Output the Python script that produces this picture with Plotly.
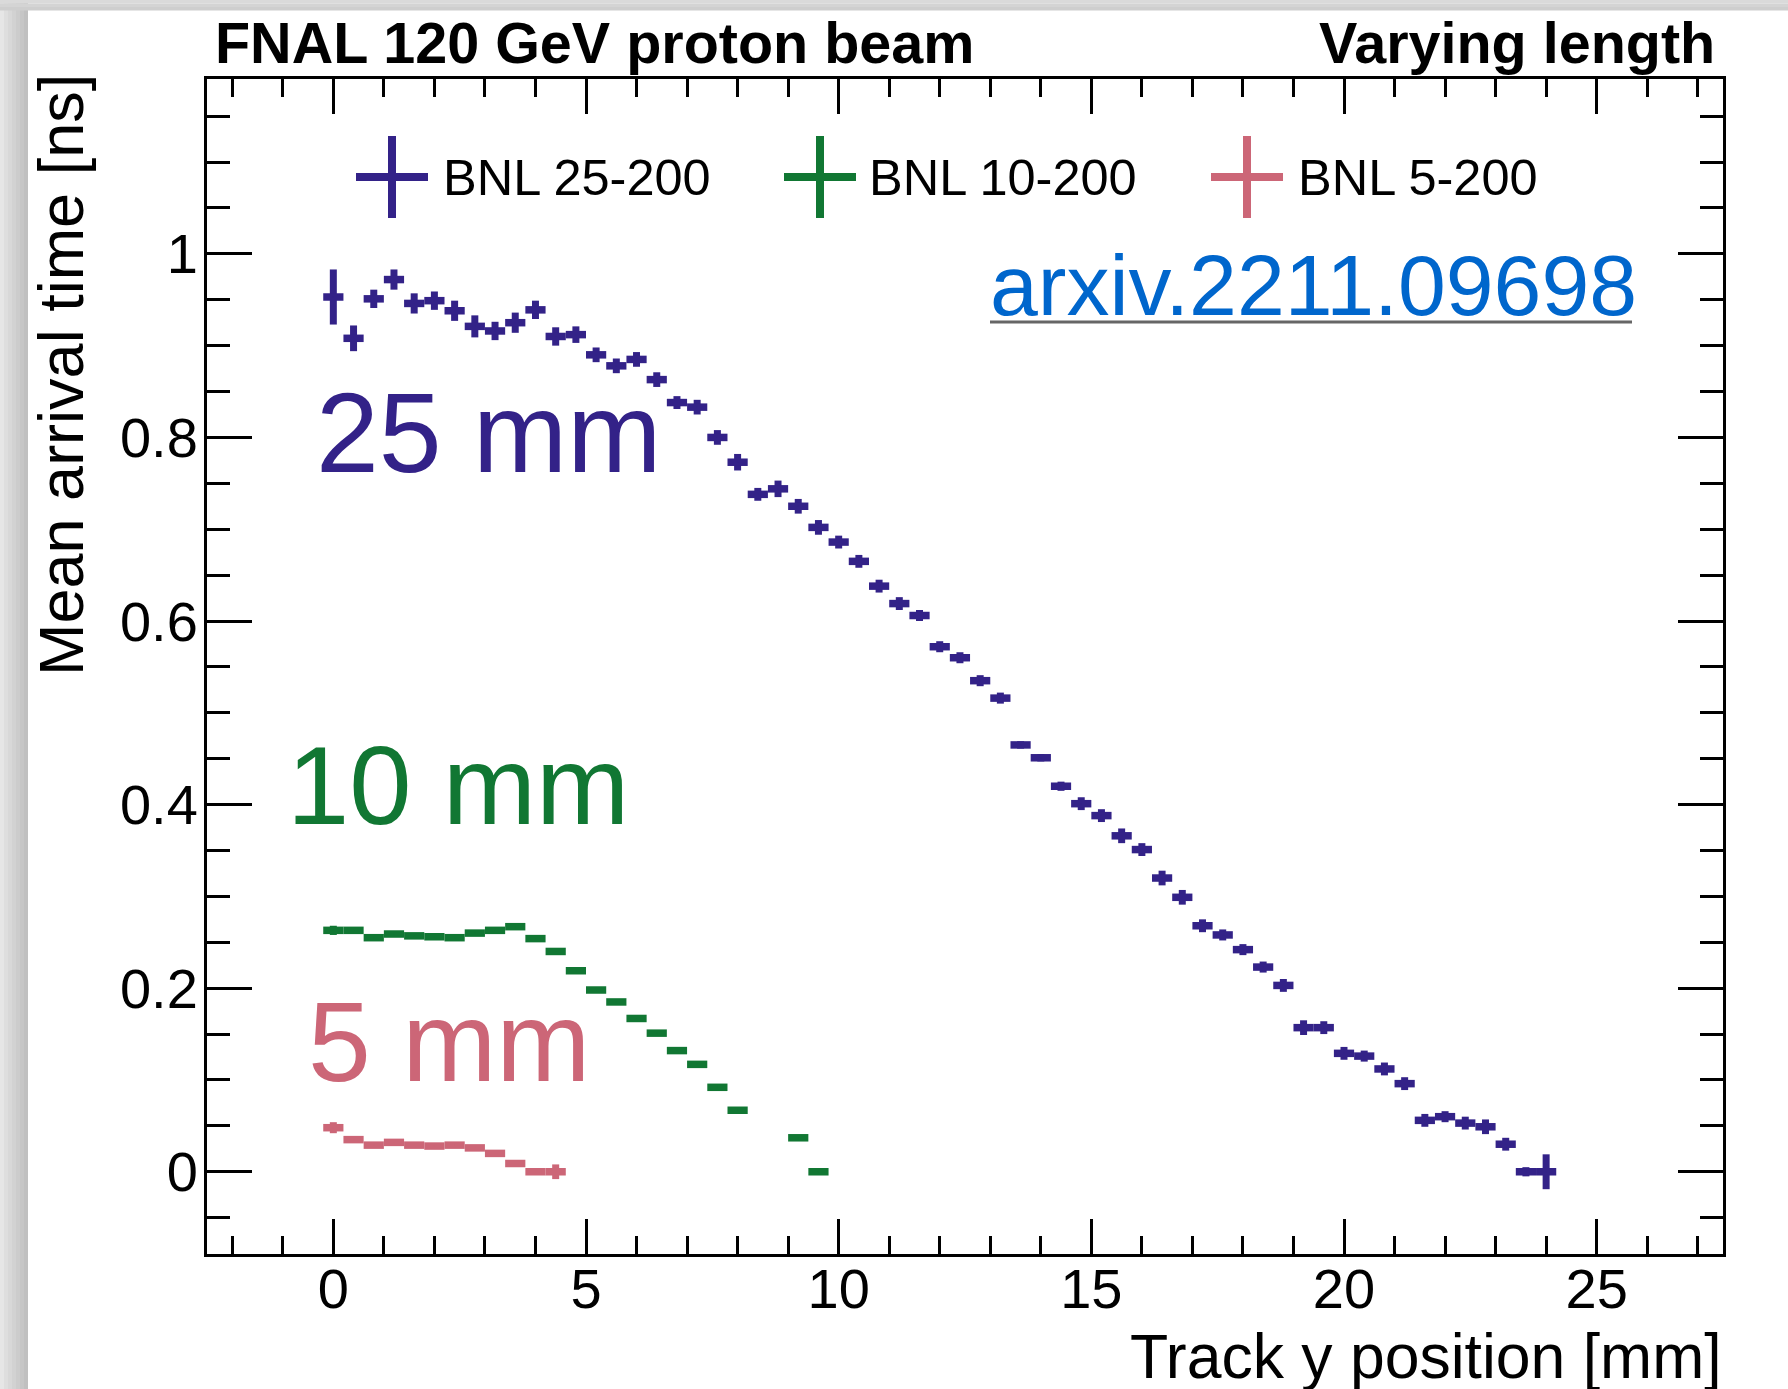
import plotly.graph_objects as go

# ---------------- data ----------------
x_25 = [0.0, 0.4, 0.8, 1.2, 1.6, 2.0, 2.4, 2.8, 3.2, 3.6, 4.0, 4.4, 4.8, 5.2, 5.6, 6.0,
        6.4, 6.8, 7.2, 7.6, 8.0, 8.4, 8.8, 9.2, 9.6, 10.0, 10.4, 10.8, 11.2, 11.6, 12.0,
        12.4, 12.8, 13.2, 13.6, 14.0, 14.4, 14.8, 15.2, 15.6, 16.0, 16.4, 16.8, 17.2,
        17.6, 18.0, 18.4, 18.8, 19.2, 19.6, 20.0, 20.4, 20.8, 21.2, 21.6, 22.0, 22.4,
        22.8, 23.2, 23.6, 24.0]
y_25 = [0.953, 0.908, 0.951, 0.972, 0.946, 0.949, 0.938, 0.921, 0.916, 0.925,
        0.939, 0.910, 0.912, 0.890, 0.878, 0.885, 0.863, 0.838, 0.833, 0.800,
        0.773, 0.738, 0.744, 0.725, 0.702, 0.686, 0.665, 0.638, 0.619, 0.606,
        0.572, 0.560, 0.535, 0.516, 0.465, 0.451, 0.420, 0.401, 0.388, 0.366,
        0.351, 0.320, 0.299, 0.268, 0.258, 0.242, 0.223, 0.203, 0.157, 0.157,
        0.129, 0.126, 0.112, 0.096, 0.056, 0.060, 0.053, 0.049, 0.030, 0.000, 0.000]
e_25 = [0.030, 0.014, 0.010, 0.011, 0.011, 0.010, 0.011, 0.012, 0.010, 0.011,
        0.010, 0.010, 0.009, 0.008, 0.008, 0.008, 0.008, 0.007, 0.008, 0.008,
        0.009, 0.007, 0.009, 0.008, 0.008, 0.007, 0.007, 0.007, 0.007, 0.006,
        0.006, 0.006, 0.006, 0.006, 0.004, 0.004, 0.005, 0.007, 0.007, 0.008,
        0.007, 0.008, 0.008, 0.007, 0.006, 0.006, 0.006, 0.007, 0.008, 0.007,
        0.007, 0.006, 0.007, 0.007, 0.007, 0.006, 0.007, 0.008, 0.007, 0.005, 0.019]

x_10 = [0.0, 0.4, 0.8, 1.2, 1.6, 2.0, 2.4, 2.8, 3.2, 3.6, 4.0, 4.4, 4.8, 5.2, 5.6, 6.0,
        6.4, 6.8, 7.2, 7.6, 8.0, 9.2, 9.6]
y_10 = [0.263, 0.263, 0.255, 0.259, 0.257, 0.256, 0.255, 0.260, 0.263, 0.267,
        0.254, 0.240, 0.219, 0.198, 0.185, 0.167, 0.151, 0.132, 0.117, 0.092,
        0.067, 0.037, 0.000]
e_10 = [0.005, 0.003, 0.003, 0.003, 0.003, 0.003, 0.003, 0.003, 0.003, 0.003,
        0.003, 0.003, 0.003, 0.003, 0.003, 0.003, 0.003, 0.003, 0.003, 0.003,
        0.003, 0.003, 0.003]

x_5 = [0.0, 0.4, 0.8, 1.2, 1.6, 2.0, 2.4, 2.8, 3.2, 3.6, 4.0, 4.4]
y_5 = [0.048, 0.035, 0.029, 0.032, 0.029, 0.028, 0.029, 0.026, 0.020, 0.009, 0.000, 0.000]
e_5 = [0.006, 0.003, 0.003, 0.003, 0.003, 0.003, 0.003, 0.003, 0.003, 0.003, 0.003, 0.008]

bin_half_width = 0.2  # mm, horizontal error bar

names = ["BNL 25-200", "BNL 10-200", "BNL 5-200"]
labels = ["25 mm", "10 mm", "5 mm"]
colors = ["#332288", "#117733", "#CC6677"]

x_ticks = [0, 5, 10, 15, 20, 25]
y_ticks = [0, 0.2, 0.4, 0.6, 0.8, 1]

FONT = "Liberation Sans, Arial, Helvetica, sans-serif"

# ---------------- layout helpers (pixels -> paper) ----------------
W, H = 1788, 1389
L, R, T, B = 207, 1723, 79, 1254


def px(x):
    return (x - L) / (R - L)


def py(y):
    return (B - y) / (B - T)


fig = go.Figure()

for xs, ys, es, c, n in zip([x_25, x_10, x_5], [y_25, y_10, y_5], [e_25, e_10, e_5], colors, names):
    fig.add_trace(go.Scatter(
        x=xs, y=ys, mode="markers", name=n, showlegend=False,
        marker=dict(size=1, color=c),
        error_x=dict(type="constant", value=bin_half_width, thickness=7.5, width=0, color=c),
        error_y=dict(type="data", array=es, thickness=7, width=0, color=c),
    ))

axis_common = dict(
    ticks="inside", tickwidth=3, tickcolor="black",
    showline=True, linecolor="black", linewidth=3, mirror="allticks",
    showgrid=False, zeroline=False,
    tickfont=dict(family=FONT, size=56, color="black"),
)

fig.update_xaxes(range=[-2.5, 27.5], tickmode="array", tickvals=x_ticks,
                 ticktext=[str(v) for v in x_ticks], ticklen=35, ticklabelstandoff=-16,
                 minor=dict(dtick=1, tick0=0, ticks="inside", ticklen=18, tickwidth=3,
                            tickcolor="black", showgrid=False),
                 **axis_common)
fig.update_yaxes(range=[-0.0896, 1.1905], tickmode="array", tickvals=y_ticks,
                 ticktext=[("%g" % v) for v in y_ticks], ticklen=45, ticklabelstandoff=-5,
                 minor=dict(dtick=0.05, tick0=0, ticks="inside", ticklen=23, tickwidth=3,
                            tickcolor="black", showgrid=False),
                 **axis_common)

shapes = []
# grey shadow border (left and top)
left_greys = ["#e6e6e6", "#dedede", "#d8d8d8", "#d2d2d2", "#cccccc", "#c6c6c6", "#c0c0c0"]
for i, g in enumerate(left_greys):
    shapes.append(dict(type="rect", xref="paper", yref="paper",
                       x0=px(i * 4), x1=px(i * 4 + 4), y0=py(H), y1=py(0),
                       fillcolor=g, line=dict(width=0), layer="below"))
top_greys = ["#dadada", "#d4d4d4", "#cecece"]
for i, g in enumerate(top_greys):
    shapes.append(dict(type="rect", xref="paper", yref="paper",
                       x0=px(0), x1=px(W), y0=py(i * 3.5 + 3.5), y1=py(i * 3.5),
                       fillcolor=g, line=dict(width=0), layer="below"))

# legend crosses
legend_cx = [392, 820, 1247]
legend_cy = 177
for cx, c in zip(legend_cx, colors):
    shapes.append(dict(type="line", xref="paper", yref="paper",
                       x0=px(cx - 36), x1=px(cx + 36), y0=py(legend_cy), y1=py(legend_cy),
                       line=dict(color=c, width=8)))
    shapes.append(dict(type="line", xref="paper", yref="paper",
                       x0=px(cx), x1=px(cx), y0=py(legend_cy - 41), y1=py(legend_cy + 41),
                       line=dict(color=c, width=8)))

# underline of the arxiv link
shapes.append(dict(type="line", xref="paper", yref="paper",
                   x0=px(990), x1=px(1632), y0=py(322), y1=py(322),
                   line=dict(color="#666666", width=3)))

annotations = []
legend_tx = [441, 867, 1296]
for tx, n in zip(legend_tx, names):
    annotations.append(dict(text=n, xref="paper", yref="paper", x=px(tx), y=py(legend_cy + 1),
                            xanchor="left", yanchor="middle", showarrow=False,
                            font=dict(family=FONT, size=50.5, color="black")))

label_pos = [(314, 433), (285, 785), (306, 1042)]
label_sizes = [113, 112, 113]
for (lx, ly), t, c, s in zip(label_pos, labels, colors, label_sizes):
    annotations.append(dict(text=t, xref="paper", yref="paper", x=px(lx), y=py(ly),
                            xanchor="left", yanchor="middle", showarrow=False,
                            font=dict(family=FONT, size=s, color=c)))

annotations.append(dict(text="arxiv.2211.09698", xref="paper", yref="paper",
                        x=px(988), y=py(285), xanchor="left", yanchor="middle",
                        showarrow=False, font=dict(family=FONT, size=86, color="#0066CC")))

annotations.append(dict(text="<b>FNAL 120 GeV proton beam</b>", xref="paper", yref="paper",
                        x=px(213), y=py(43), xanchor="left", yanchor="middle",
                        showarrow=False, font=dict(family=FONT, size=57.5, color="black")))
annotations.append(dict(text="<b>Varying length</b>", xref="paper", yref="paper",
                        x=px(1717), y=py(43), xanchor="right", yanchor="middle",
                        showarrow=False, font=dict(family=FONT, size=57.5, color="black")))

annotations.append(dict(text="Mean arrival time [ns]", xref="paper", yref="paper",
                        x=px(24), y=py(72), xanchor="left", yanchor="top", textangle=-90,
                        showarrow=False, font=dict(family=FONT, size=63, color="black")))
annotations.append(dict(text="Track y position [mm]", xref="paper", yref="paper",
                        x=px(1724), y=py(1356), xanchor="right", yanchor="middle",
                        showarrow=False, font=dict(family=FONT, size=62.5, color="black")))

fig.update_layout(
    width=W, height=H,
    margin=dict(l=L, r=W - R, t=T, b=H - B, autoexpand=False),
    paper_bgcolor="white", plot_bgcolor="white",
    showlegend=False,
    shapes=shapes, annotations=annotations,
    font=dict(family=FONT, color="black"),
)

fig.write_html("out.html")
